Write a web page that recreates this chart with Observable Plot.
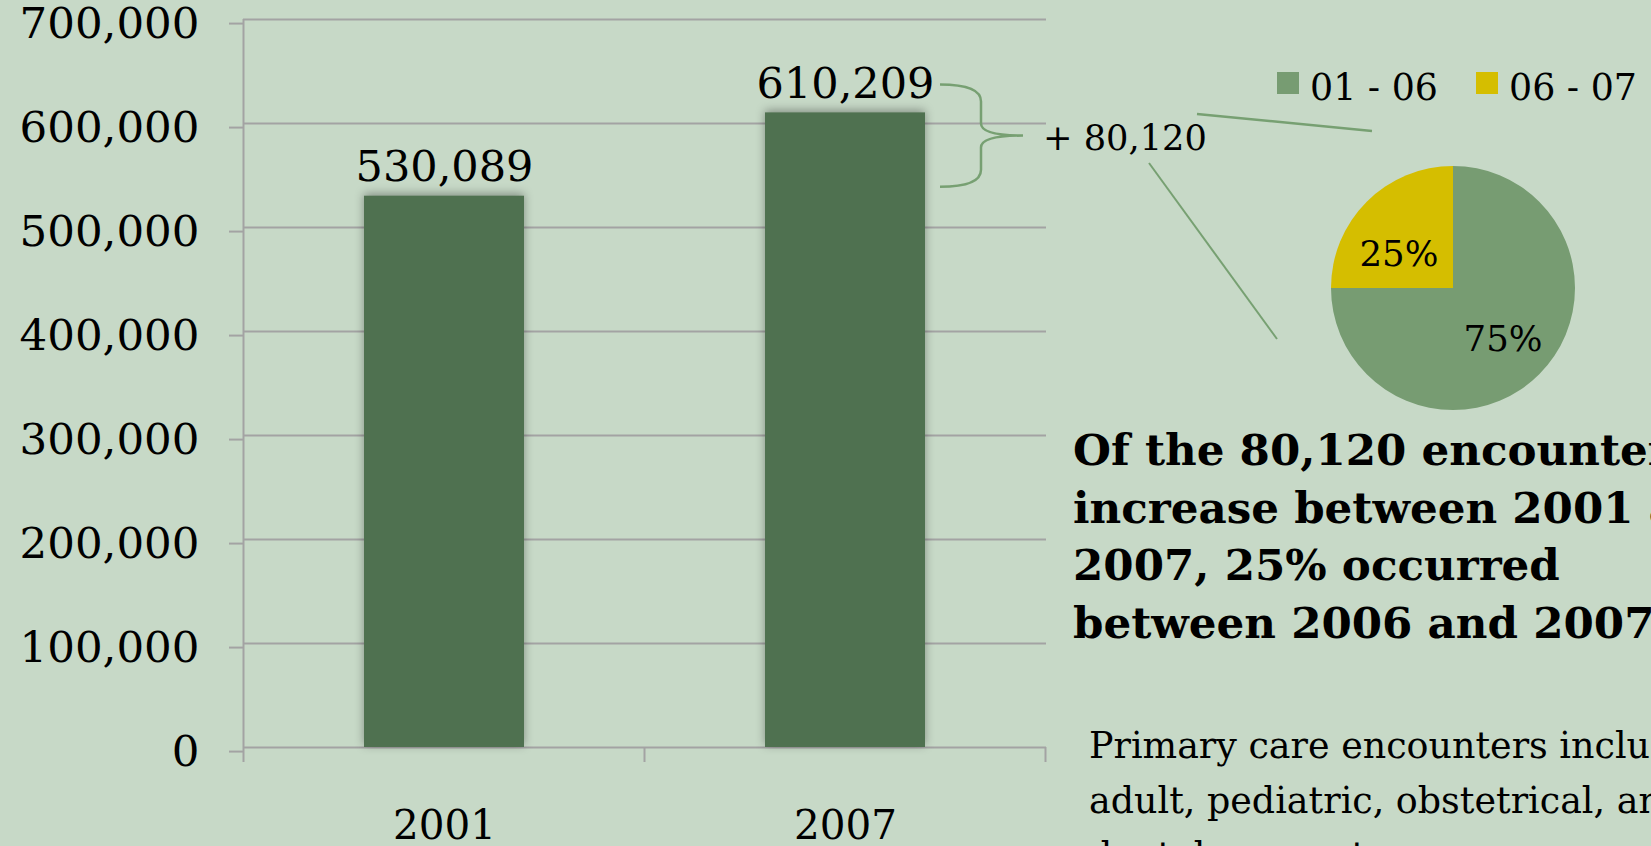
<!DOCTYPE html>
<html><head><meta charset="utf-8">
<script src="https://cdn.jsdelivr.net/npm/d3@7"></script>
<script src="https://cdn.jsdelivr.net/npm/@observablehq/plot@0.6"></script>
<style>
html,body{margin:0;padding:0;background:#C7D9C7;overflow:hidden;}
#chart{position:relative;width:1651px;height:846px;overflow:hidden;}
</style></head><body><div id="chart"></div>
<script>
// ---- data ----
const years = ["2001", "2007"];
const encounters = [530089, 610209];
const yTicks = [0, 100000, 200000, 300000, 400000, 500000, 600000, 700000];
const increaseLabel = "+ 80,120";
const periods = ["01 - 06", "06 - 07"];
const periodShares = [75, 25];
const headline = ["Of the 80,120 encounters", "increase between 2001 and", "2007, 25% occurred", "between 2006 and 2007."];
const note = ["Primary care encounters include", "adult, pediatric, obstetrical, and", "dental encounters."];

// ---- style ----
const FONT = '"DejaVu Serif", Georgia, serif';
const GRID = "#A3A3A3", BAR = "#4F7150", ACC = "#77A072";
const SLICE = ["#779C72", "#D5BE00"];
const ctx = document.createElement("canvas").getContext("2d");
function fit(text, target, weight = "normal") {
  ctx.font = `${weight} 100px ${FONT}`;
  return 100 * target / ctx.measureText(text).width;
}
const tickFS = fit("700,000", 180);
const barFS = fit("530,089", 178);
const catFS = fit("2001", 103);
const incFS = fit(increaseLabel, 164);
const legFS = fit(periods[0], 128);
const pieFS = fit("25%", 79);
const boldFS = fit(headline[2], 487, "bold");
const noteFS = fit("Primary care encounters", 459);

const bars = years.map((year, i) => ({year, value: encounters[i]}));
const fmt = d3.format(",");

function axisFrame(index, {x, y}) {
  const step = x.step(), band = x.bandwidth();
  const y0 = y(0), yTop = y(yTicks[yTicks.length - 1]);
  const edges = years.map(c => x(c) - (step - band) / 2);
  edges.push(x(years[years.length - 1]) + band + (step - band) / 2);
  const g = d3.create("svg:g").attr("stroke", GRID).attr("stroke-width", 2);
  edges.forEach((e, i) => g.append("line")
    .attr("x1", e).attr("x2", e)
    .attr("y1", i === 0 ? yTop : y0).attr("y2", y0 + 15));
  return g.node();
}

function braceMark(index, {x, y}) {
  const band = x.bandwidth();
  const xr = x(years[1]) + band;
  const top = y(encounters[1]) - 28, bot = y(encounters[0]) - 9;
  const mid = (top + bot) / 2;
  const x0 = xr + 15, xs = xr + 56, xt = xr + 98;
  const g = d3.create("svg:g").attr("text-anchor", "start");
  g.append("path")
    .attr("d", `M${x0},${top} Q${xs},${top} ${xs},${top + 17} L${xs},${mid - 12} Q${xs},${mid} ${xt},${mid} Q${xs},${mid} ${xs},${mid + 12} L${xs},${bot - 17} Q${xs},${bot} ${x0},${bot}`)
    .attr("fill", "none").attr("stroke", ACC).attr("stroke-width", 2.5);
  const tx = xt + 20, ty = mid + 14;
  g.append("text").attr("x", tx).attr("y", ty)
    .attr("font-family", FONT).attr("font-size", incFS).attr("fill", "#000")
    .text(increaseLabel);
  return g.node();
}

function pieMark() {
  const cx = 1453, cy = 288, r = 122;
  const labelShift = [[0, 0], [-4, 15]]; // best-fit nudges for slice labels
  const g = d3.create("svg:g").attr("text-anchor", "start");
  // connectors
  g.append("line").attr("x1", 1197).attr("y1", 114).attr("x2", cx - 81).attr("y2", cy - 157)
    .attr("stroke", ACC).attr("stroke-width", 2.5);
  g.append("line").attr("x1", 1149).attr("y1", 163).attr("x2", cx - 176).attr("y2", cy + 51)
    .attr("stroke", ACC).attr("stroke-width", 2);
  const arcs = d3.pie().sort(null).value(d => d)(periodShares);
  const arc = d3.arc().innerRadius(0).outerRadius(r);
  const pg = g.append("g").attr("transform", `translate(${cx},${cy})`);
  pg.selectAll("path").data(arcs).join("path")
    .attr("d", arc).attr("fill", (d, i) => SLICE[i]);
  const lab = d3.arc().innerRadius(r * 0.58).outerRadius(r * 0.58);
  pg.selectAll("text").data(arcs).join("text")
    .attr("transform", (d, i) => { const [a, b] = lab.centroid(d); return `translate(${a + labelShift[i][0]},${b + labelShift[i][1]})`; })
    .attr("text-anchor", "middle").attr("dy", "0.36em")
    .attr("font-family", FONT).attr("font-size", pieFS).attr("fill", "#000")
    .text(d => d.data + "%");
  // legend
  const lx = [1277, 1476];
  periods.forEach((p, i) => {
    g.append("rect").attr("x", lx[i]).attr("y", 72).attr("width", 22).attr("height", 22).attr("fill", SLICE[i]);
    g.append("text").attr("x", lx[i] + 33).attr("y", 100)
      .attr("font-family", FONT).attr("font-size", legFS).attr("fill", "#000").text(p);
  });
  // headline + note
  headline.forEach((t, i) => g.append("text").attr("x", 1073).attr("y", 465 + i * 57.7)
    .attr("font-family", FONT).attr("font-weight", "bold").attr("font-size", boldFS).attr("fill", "#000")
    .text(t));
  note.forEach((t, i) => g.append("text").attr("x", 1089).attr("y", 758 + i * 55)
    .attr("font-family", FONT).attr("font-size", noteFS).attr("fill", "#000").text(t));
  return g.node();
}

const plot = Plot.plot({
  width: 1651, height: 846,
  marginLeft: 243, marginRight: 605, marginTop: 19, marginBottom: 99,
  style: {background: "transparent", fontFamily: FONT, color: "#000", overflow: "visible"},
  x: {domain: years, paddingInner: 0.6, paddingOuter: 0.3, label: null},
  y: {domain: [0, 700000], label: null},
  marks: [
    Plot.ruleY(yTicks, {stroke: GRID, strokeWidth: 2}),
    Plot.axisY(yTicks, {tickSize: 14, tickPadding: 30, stroke: GRID, strokeWidth: 2, color: "#000",
      tickFormat: fmt, fontSize: tickFS, dy: 18 - 0.32 * tickFS, label: null}),
    Plot.axisX({tickSize: 0, tickPadding: 838 - 747 - 0.71 * catFS, fontSize: catFS, color: "#000", label: null}),
    axisFrame,
    Plot.barY(bars, {x: "year", y: "value", fill: BAR}),
    Plot.text(bars, {x: "year", y: "value", text: d => fmt(d.value), lineAnchor: "bottom", dy: -15, fontSize: barFS, fill: "#000"}),
    braceMark,
    pieMark
  ]
});
const barG = plot.querySelector('g[aria-label="bar"]');
if (barG) barG.style.filter = "drop-shadow(0px -2px 5px rgba(0,0,0,0.35))";
document.getElementById("chart").appendChild(plot);
</script>
</body></html>
